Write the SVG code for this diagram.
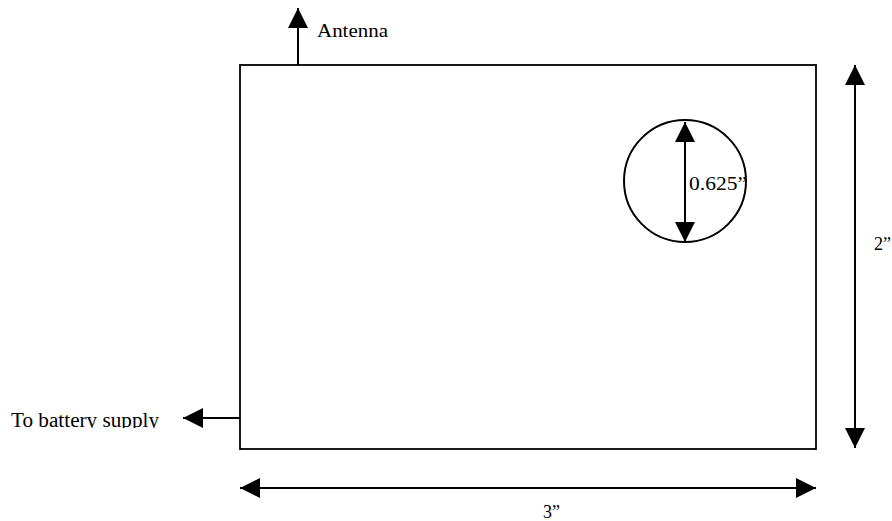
<svg xmlns="http://www.w3.org/2000/svg" width="892" height="521" viewBox="0 0 892 521">
<style>
.ln{stroke:#000;stroke-width:2;fill:none}
.box{stroke:#000;stroke-width:1.8;fill:#fff}
.t{font-family:"Liberation Serif","Times New Roman",serif;fill:#000}
</style>
<defs>
<marker id="ah" markerUnits="userSpaceOnUse" markerWidth="20" markerHeight="20" viewBox="0 0 20 20" refX="20" refY="10" orient="auto-start-reverse">
<path d="M0,0 L20,10 L0,20 z" fill="#000"/>
</marker>
<clipPath id="clipBat"><rect x="0" y="395" width="240" height="33"/></clipPath>
</defs>
<g id="board">
<rect class="box" x="240" y="65" width="576" height="384"/>
</g>
<g id="hole">
<circle cx="685" cy="181" r="61" class="ln"/>
<text class="t" x="689" y="190" font-size="19" textLength="58" lengthAdjust="spacingAndGlyphs">0.625”</text>
</g>
<g id="antenna-label">
<text class="t" x="317" y="37" font-size="19" textLength="71" lengthAdjust="spacingAndGlyphs">Antenna</text>
</g>
<g id="battery-label">
<text class="t" x="11" y="427" font-size="20" textLength="148" lengthAdjust="spacingAndGlyphs" clip-path="url(#clipBat)">To battery supply</text>
</g>
<g id="dim-labels">
<text class="t" x="874" y="250" font-size="18">2”</text>
<text class="t" x="543" y="518" font-size="18">3”</text>
</g>
<g id="connectors">
<line class="ln" x1="298" y1="65" x2="298" y2="8" marker-end="url(#ah)"/>
<line class="ln" x1="240" y1="418" x2="183" y2="418" marker-end="url(#ah)"/>
<line class="ln" x1="685" y1="122" x2="685" y2="242" marker-start="url(#ah)" marker-end="url(#ah)"/>
<line class="ln" x1="855" y1="65" x2="855" y2="448" marker-start="url(#ah)" marker-end="url(#ah)"/>
<line class="ln" x1="240" y1="488" x2="816" y2="488" marker-start="url(#ah)" marker-end="url(#ah)"/>
</g>
</svg>
